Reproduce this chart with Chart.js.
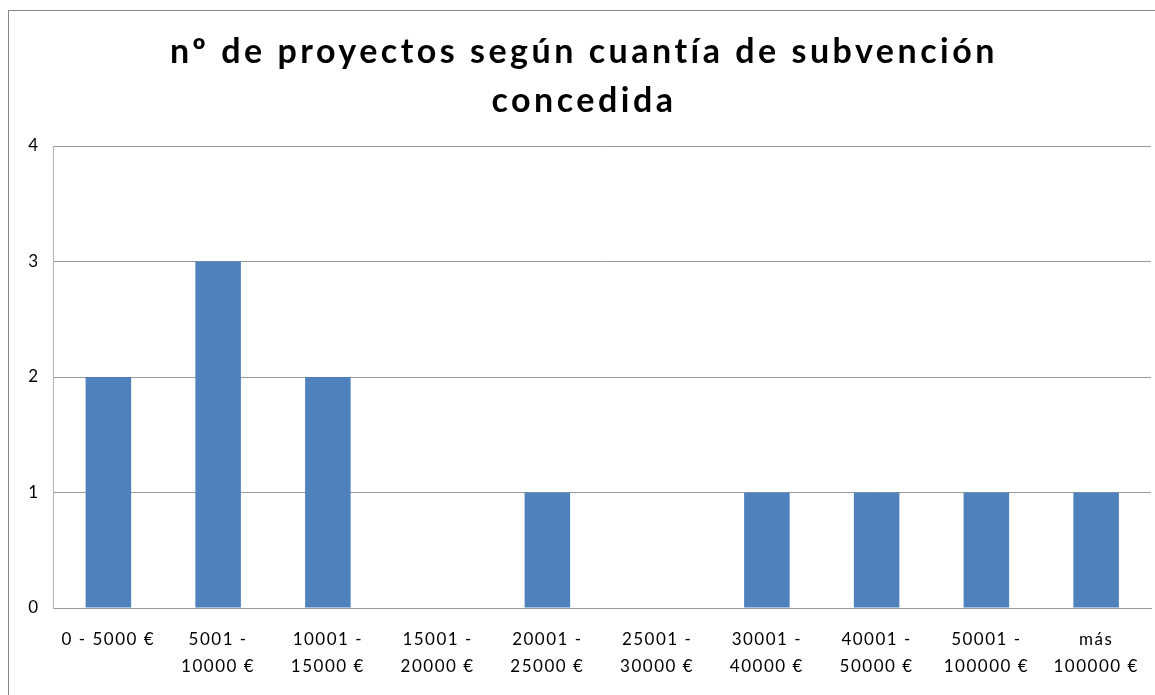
<!DOCTYPE html>
<html><head><meta charset="utf-8">
<script src="https://cdn.jsdelivr.net/npm/chart.js@4.4.1/dist/chart.umd.min.js"></script>
<style>html,body{margin:0;padding:0;background:#fff}#wrap{position:relative;width:1155px;height:695px}</style>
</head><body><div id="wrap"><canvas id="c" width="1155" height="695"></canvas></div>
<script>
const titleLines = ['nº de proyectos según cuantía de subvención', 'concedida'];
const categories = [
  ['0 - 5000 €'],
  ['5001 -', '10000 €'],
  ['10001 -', '15000 €'],
  ['15001 -', '20000 €'],
  ['20001 -', '25000 €'],
  ['25001 -', '30000 €'],
  ['30001 -', '40000 €'],
  ['40001 -', '50000 €'],
  ['50001 -', '100000 €'],
  ['más', '100000 €']
];
const projectCounts = [2, 3, 2, 0, 1, 0, 1, 1, 1, 1];
const yMin = 0, yMax = 4, yStep = 1;

const TITLE_SPACING = '3.5px';
const TICK_SPACING = '1.5px';

const stylePlugin = {
  id: 'stylePlugin',
  beforeDraw(chart) {
    const ctx = chart.ctx;
    ctx.save();
    ctx.strokeStyle = '#868686';
    ctx.lineWidth = 1;
    ctx.strokeRect(8.5, 10.5, 1400, 1000);
    ctx.restore();
    const tb = chart.titleBlock;
    if (tb && !tb._wrapped) {
      const orig = tb.draw;
      tb.draw = function () {
        ctx.save();
        ctx.letterSpacing = TITLE_SPACING;
        orig.apply(this, arguments);
        ctx.restore();
      };
      tb._wrapped = true;
    }
    ctx.letterSpacing = TICK_SPACING;
  },
  afterDraw(chart) { chart.ctx.letterSpacing = '0px'; }
};

new Chart(document.getElementById('c'), {
  type: 'bar',
  data: {
    labels: categories,
    datasets: [{
      data: projectCounts,
      backgroundColor: '#4F81BD',
      borderWidth: 0,
      barPercentage: 0.415,
      categoryPercentage: 1.0
    }]
  },
  options: {
    responsive: false,
    animation: false,
    layout: { padding: { top: 10, left: 17, right: 4, bottom: 15 } },
    plugins: {
      legend: { display: false },
      tooltip: { enabled: false },
      title: {
        display: true,
        text: titleLines,
        color: '#000',
        font: { family: 'Lato', size: 34, weight: 'bold', lineHeight: 49 / 34 },
        padding: { top: 17.5, bottom: 20.5 }
      }
    },
    scales: {
      x: {
        afterFit(scale) { scale.height = 72; },
        grid: { display: false, drawTicks: false },
        border: { display: true, color: '#999', width: 1 },
        ticks: {
          color: '#000',
          padding: 18,
          maxRotation: 0,
          autoSkip: false,
          font: { family: 'Lato', size: 17, lineHeight: 27 / 17 }
        }
      },
      y: {
        min: yMin, max: yMax,
        afterFit(scale) { scale.width = 36.5; },
        grid: { color: '#999', lineWidth: 1, drawTicks: false },
        border: { display: true, color: '#b3b3b3', width: 1 },
        ticks: {
          stepSize: yStep,
          color: '#000',
          padding: 14,
          font: { family: 'Lato', size: 17 }
        }
      }
    }
  },
  plugins: [stylePlugin]
});
</script>
</body></html>
